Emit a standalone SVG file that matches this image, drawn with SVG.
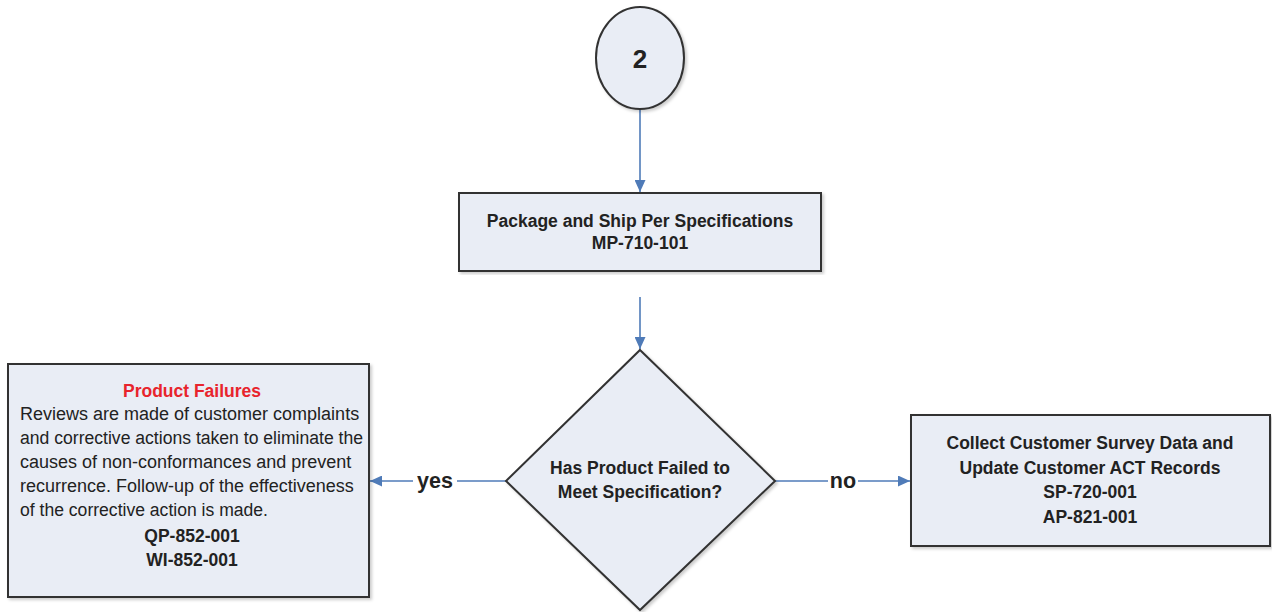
<svg xmlns="http://www.w3.org/2000/svg" width="1272" height="612" viewBox="0 0 1272 612">
<defs>
<style>
.shape{fill:#E9EDF5;stroke:#333;stroke-width:2}
.t{font-family:"Liberation Sans",Arial,sans-serif;font-weight:bold;font-size:17.5px;fill:#222;text-anchor:middle}
.b{font-family:"Liberation Sans",Arial,sans-serif;font-size:18px;fill:#222}
.conn{stroke:#4F7BB8;stroke-width:1.6;fill:none}
.lbl{font-family:"Liberation Sans",Arial,sans-serif;font-weight:bold;font-size:21.5px;fill:#222;text-anchor:middle}
</style>
<marker id="ah" viewBox="0 0 12 11" refX="12" refY="5.5" markerWidth="12" markerHeight="11" markerUnits="userSpaceOnUse" orient="auto">
<path d="M0,0 L12,5.5 L0,11 z" fill="#4F7BB8"/>
</marker>
<filter id="sh" x="-5%" y="-5%" width="110%" height="110%"><feDropShadow dx="2" dy="2" stdDeviation="1.5" flood-color="#000" flood-opacity="0.2"/></filter>
</defs>
<rect width="1272" height="612" fill="#fff"/>
<g id="connectors">
<line class="conn" x1="640" y1="110" x2="640" y2="192" marker-end="url(#ah)"/>
<line class="conn" x1="640" y1="297" x2="640" y2="349" marker-end="url(#ah)"/>
<line class="conn" x1="506" y1="481" x2="370" y2="481" marker-end="url(#ah)"/>
<line class="conn" x1="775" y1="481" x2="910" y2="481" marker-end="url(#ah)"/>
<rect x="413" y="469" width="44" height="24" fill="#fff"/>
<text class="lbl" x="435" y="488">yes</text>
<rect x="828" y="469" width="30" height="24" fill="#fff"/>
<text class="lbl" x="843" y="488">no</text>
</g>
<g id="start">
<ellipse class="shape" cx="640" cy="58" rx="44" ry="51" filter="url(#sh)"/>
<text class="t" x="640" y="68" style="font-size:26px">2</text>
</g>
<g id="package">
<rect class="shape" x="459" y="193" width="362" height="78" filter="url(#sh)"/>
<text class="t" x="640" y="227">Package and Ship Per Specifications</text>
<text class="t" x="640" y="249">MP-710-101</text>
</g>
<g id="decision">
<polygon class="shape" points="640,350 775,481 640,610 506,481" filter="url(#sh)"/>
<text class="t" x="640" y="474">Has Product Failed to</text>
<text class="t" x="640" y="498">Meet Specification?</text>
</g>
<g id="failures">
<rect class="shape" x="8" y="364" width="361" height="233" filter="url(#sh)"/>
<text class="t" x="192" y="397" style="fill:#E8242C">Product Failures</text>
<text class="b" x="20" y="420">Reviews are made of customer complaints</text>
<text class="b" x="20" y="444" textLength="343" lengthAdjust="spacingAndGlyphs">and corrective actions taken to eliminate the</text>
<text class="b" x="20" y="468">causes of non-conformances and prevent</text>
<text class="b" x="20" y="492">recurrence. Follow-up of the effectiveness</text>
<text class="b" x="20" y="516" textLength="248" lengthAdjust="spacingAndGlyphs">of the corrective action is made.</text>
<text class="t" x="192" y="542">QP-852-001</text>
<text class="t" x="192" y="566">WI-852-001</text>
</g>
<g id="survey">
<rect class="shape" x="911" y="415" width="359" height="131" filter="url(#sh)"/>
<text class="t" x="1090" y="449">Collect Customer Survey Data and</text>
<text class="t" x="1090" y="474">Update Customer ACT Records</text>
<text class="t" x="1090" y="498">SP-720-001</text>
<text class="t" x="1090" y="523">AP-821-001</text>
</g>
</svg>
